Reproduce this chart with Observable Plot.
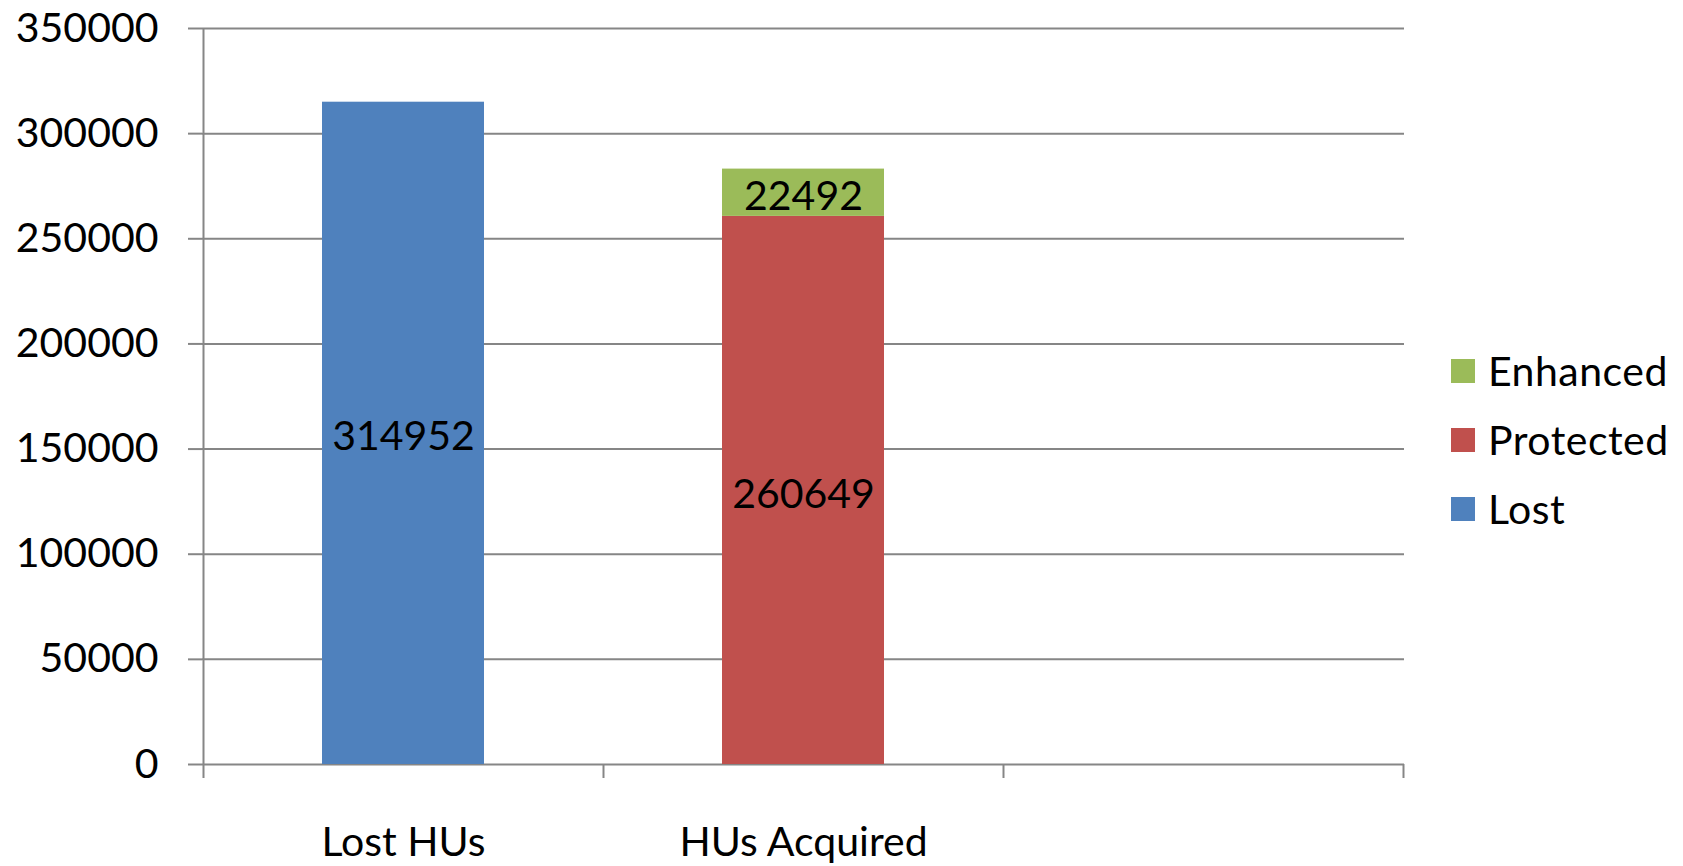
<!DOCTYPE html>
<html>
<head>
<meta charset="utf-8">
<script src="https://cdn.jsdelivr.net/npm/d3@7"></script>
<script src="https://cdn.jsdelivr.net/npm/@observablehq/plot@0.6"></script>
<style>
  html, body { margin: 0; padding: 0; background: #fff; }
  #wrap { position: relative; width: 1683px; height: 866px; font-family: Lato, "Open Sans", sans-serif; }
  #legend { position: absolute; left: 1451px; top: 336px; font-size: 41px; color: #000; }
  .item { display: flex; align-items: center; height: 69px; }
  .sw { width: 24px; height: 24px; margin-right: 13px; }
  .item span { letter-spacing: 0.5px; }
</style>
</head>
<body>
<div id="wrap"><div id="legend"></div></div>
<script>
const categories = ["Lost HUs", "HUs Acquired", ""];
const seriesNames = ["Lost", "Protected", "Enhanced"];
const seriesColors = ["#4F81BD", "#C0504D", "#9BBB59"];
const barCategory = ["Lost HUs", "HUs Acquired", "HUs Acquired"];
const barSeries = ["Lost", "Protected", "Enhanced"];
const barValue = [314952, 260649, 22492];
const yTicks = [0, 50000, 100000, 150000, 200000, 250000, 300000, 350000];
const legendOrder = ["Enhanced", "Protected", "Lost"];

const data = barValue.map((v, i) => ({cat: barCategory[i], series: barSeries[i], value: v}));

const gray = "#868686";
const chart = Plot.plot({
  width: 1683,
  height: 866,
  marginLeft: 202,
  marginRight: 279,
  marginTop: 28,
  marginBottom: 102,
  style: {fontFamily: "Lato, 'Open Sans', sans-serif", fontSize: "41px", color: "#000", background: "#fff"},
  x: {domain: categories, padding: 0, axis: null},
  y: {domain: [0, 350000], axis: null},
  color: {domain: seriesNames, range: seriesColors},
  marks: [
    Plot.ruleY(yTicks, {stroke: gray, strokeWidth: 2}),
    Plot.axisY({ticks: yTicks, tickSize: 14, tickPadding: 30, tickFormat: d => String(d), stroke: gray, strokeWidth: 2, label: null, fontSize: 41}),
    Plot.barY(data, Plot.stackY({x: "cat", y: "value", z: "series", fill: "series", insetLeft: 119, insetRight: 119})),
    Plot.text(data, Plot.stackY({x: "cat", y: "value", z: "series", text: d => String(d.value), fill: "#000", fontSize: 41, dy: 4})),
    Plot.ruleX([categories[0]], {x: d => d, dx: -200, stroke: gray, strokeWidth: 2, insetBottom: -14}),
    Plot.ruleX(categories.slice(1), {x: d => d, dx: -200, stroke: gray, strokeWidth: 2, insetTop: 736, insetBottom: -14}),
    Plot.ruleX([categories[2]], {x: d => d, dx: 200, stroke: gray, strokeWidth: 2, insetTop: 736, insetBottom: -14}),
    Plot.axisX({tickSize: 0, tickPadding: 62, label: null, fontSize: 41})
  ]
});
document.getElementById("wrap").prepend(chart);

const legend = document.getElementById("legend");
for (const name of legendOrder) {
  const item = document.createElement("div");
  item.className = "item";
  const sw = document.createElement("div");
  sw.className = "sw";
  sw.style.background = seriesColors[seriesNames.indexOf(name)];
  const label = document.createElement("span");
  label.textContent = name;
  item.append(sw, label);
  legend.append(item);
}
</script>
</body>
</html>
